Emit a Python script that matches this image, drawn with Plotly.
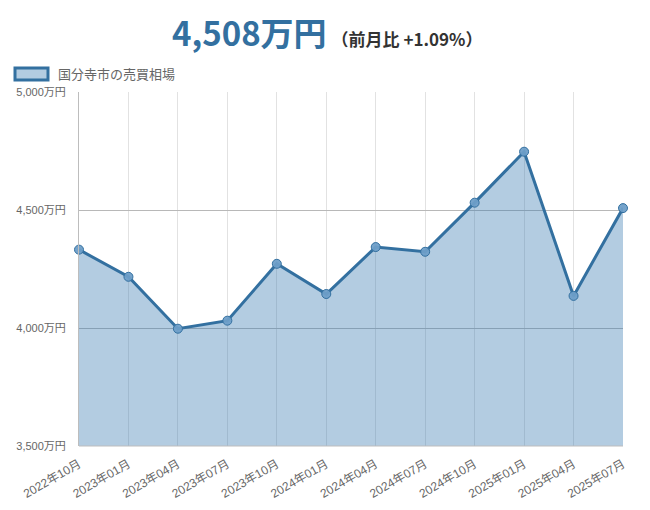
import plotly.graph_objects as go

months = ["2022年10月", "2023年01月", "2023年04月", "2023年07月", "2023年10月", "2024年01月",
          "2024年04月", "2024年07月", "2024年10月", "2025年01月", "2025年04月", "2025年07月"]
prices = [4332, 4217, 3997, 4031, 4272, 4144, 4343, 4323, 4531, 4747, 4136, 4508]
series_name = "国分寺市の売買相場"
headline = "4,508万円"
change_text = "（前月比 +1.09%）"
y_ticks = [3500, 4000, 4500, 5000]

LINE = "rgb(51,112,160)"
FILL = "rgba(54,120,175,0.375)"
FONT = "Liberation Sans, Noto Sans CJK JP, sans-serif"
CJK = "Noto Sans CJK JP, sans-serif"

fig = go.Figure()
fig.add_trace(go.Scatter(
    x=months, y=prices, name=series_name,
    mode="lines+markers", fill="tozeroy", fillcolor=FILL,
    line=dict(color=LINE, width=3),
    marker=dict(size=9, color="rgba(110,158,200,0.95)", line=dict(color=LINE, width=1)),
    cliponaxis=False, showlegend=False,
))

# page body has an 8px default margin, so the figure is sized 642x502
fig.update_layout(
    width=642, height=502,
    margin=dict(l=71, r=27, t=84, b=64, autoexpand=False),
    paper_bgcolor="white", plot_bgcolor="white",
    font=dict(family=FONT, size=11, color="#666"),
    xaxis=dict(
        type="category", range=[0, len(months) - 1], automargin=False,
        showgrid=True, gridcolor="#e2e2e2", gridwidth=1,
        showline=False, zeroline=False,
        tickangle=-30, tickfont=dict(size=12, color="#666", family=FONT),
        ticks="", ticklabelstandoff=8,
    ),
    yaxis=dict(
        range=[3500, 5000], tickvals=y_ticks, automargin=False,
        ticktext=[f"{v:,}万円" for v in y_ticks],
        showgrid=True, gridcolor="#b8b8b8", gridwidth=1,
        showline=True, linecolor="#bdbdbd", linewidth=1,
        zeroline=False, ticks="", ticklabelstandoff=10,
        tickfont=dict(size=11, color="#666", family=FONT),
    ),
)

# bottom axis line
fig.add_shape(type="line", xref="paper", yref="paper", x0=0, x1=1, y0=0, y1=0,
              line=dict(color="#bdbdbd", width=1))

# headline title
fig.add_annotation(
    xref="paper", yref="paper", x=0.5, y=1, xanchor="center", yanchor="bottom",
    xshift=-24, yshift=34,
    text=(f"<span style='font-size:33px;color:{LINE}'><b>{headline}</b></span>"
          f"  <span style='font-size:17px;color:#333'><b>{change_text}</b></span>"),
    showarrow=False, font=dict(family=CJK),
)

# legend (manual)
fig.add_shape(type="rect", xref="paper", yref="paper",
              x0=-64 / 544, x1=-31 / 544, y0=1 + 12 / 354, y1=1 + 24 / 354,
              fillcolor=FILL, line=dict(color=LINE, width=3))
fig.add_annotation(xref="paper", yref="paper", x=-23 / 544, y=1 + 18 / 354,
                   xanchor="left", yanchor="middle", text=series_name, showarrow=False,
                   font=dict(family=CJK, size=13, color="#666"))

fig.write_html("out.html")
